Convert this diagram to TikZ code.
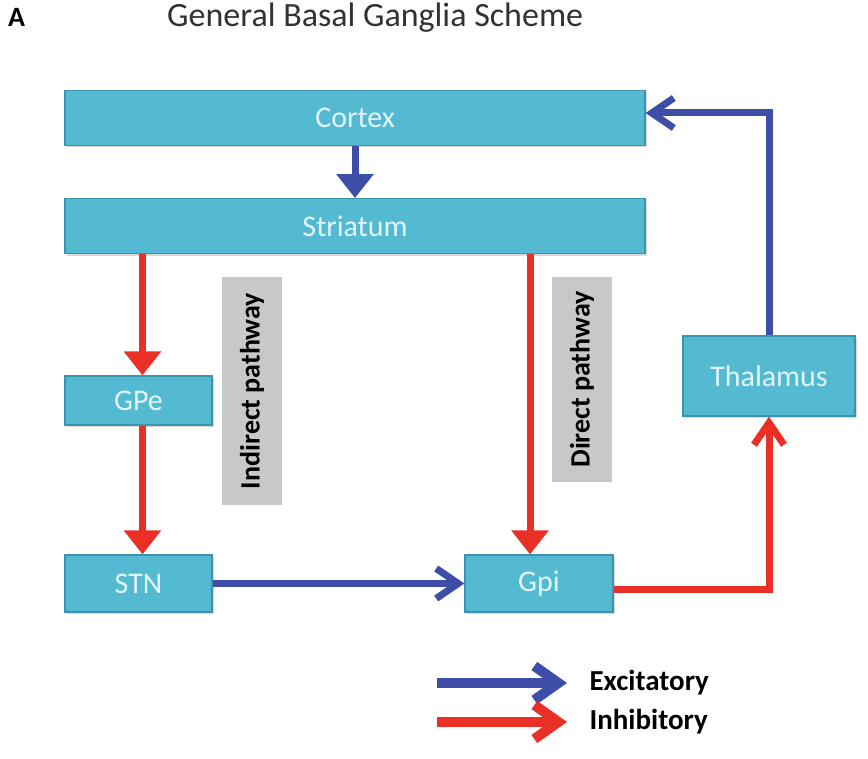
\documentclass[tikz,border=0pt]{standalone}
\usepackage{fontspec}
\setmainfont{Carlito}
\usepackage{tikz}
\usetikzlibrary{arrows.meta,positioning,shadows}

\definecolor{boxcyan}{RGB}{84,186,210}
\definecolor{boxedge}{RGB}{58,148,172}
\definecolor{boxtext}{RGB}{226,245,250}
\definecolor{labelgray}{RGB}{200,200,200}
\definecolor{exblue}{RGB}{62,78,168}
\definecolor{inred}{RGB}{234,48,38}
\definecolor{titlegray}{RGB}{50,50,50}

\begin{document}
\begin{tikzpicture}[
    x=1pt, y=-1pt,
    region/.style={
        rectangle, draw=boxedge, line width=1.2pt, fill=boxcyan,
        text=boxtext, font=\fontsize{30}{35}\selectfont,
        drop shadow={shadow xshift=1.5pt, shadow yshift=-2pt, opacity=0.3}
    },
    pathlabel/.style={
        rectangle, fill=labelgray, rotate=90,
        minimum height=60pt, font=\bfseries\fontsize{28}{33}\selectfont
    },
    excite/.style={draw=exblue, line width=7pt},
    inhib/.style={draw=inred, line width=7pt},
    push/.style={-{Triangle[length=24pt,width=36pt]}},
    barb/.style={-{Straight Barb[length=22pt,width=30pt]}},
    legend/.style={line width=10pt, -{Straight Barb[length=24pt,width=34pt]}},
    legendlabel/.style={anchor=west, font=\bfseries\fontsize{29}{34}\selectfont}
]
\useasboundingbox (0,0) rectangle (868,759);

% Heading
\node[anchor=base west, inner sep=0pt, font=\bfseries\fontsize{28}{32}\selectfont] (panel) at (8,27) {A};
\node[anchor=base west, inner sep=0pt, text=titlegray, font=\fontsize{34}{40}\selectfont] (title) at (167,27) {General Basal Ganglia Scheme};

% Row 1-2: Cortex and Striatum
\node[region, minimum width=580pt, minimum height=55pt] (cortex) at (355,118) {Cortex};
\node[region, minimum width=580pt, minimum height=55pt, below=52pt of cortex] (striatum) {Striatum};

% Indirect branch
\node[region, minimum width=147pt, minimum height=49pt] (gpe) at (138.5,400.5) {GPe};
\node[region, minimum width=147pt, minimum height=57pt] (stn) at (138.5,583.5) {STN};

% Output nuclei
\node[region, minimum width=148pt, minimum height=57pt] (gpi) at (539,583.5) {Gpi};
\node[region, minimum width=172pt, minimum height=80pt] (thalamus) at (769,376) {Thalamus};

% Pathway labels
\node[pathlabel, minimum width=228pt] (indirect) at (252,391) {Indirect pathway};
\node[pathlabel, minimum width=205pt] (direct) at (582,379.5) {Direct pathway};

% Connections
\draw[excite, push] (cortex) -- (striatum);
\draw[inhib, push] ([xshift=4pt]striatum.south -| gpe.north) -- ([xshift=4pt]gpe.north);
\draw[inhib, push] ([xshift=4pt]gpe.south) -- ([xshift=4pt]stn.north);
\draw[inhib, push] ([xshift=-9pt]striatum.south -| gpi.north) -- ([xshift=-9pt]gpi.north);
\draw[excite, barb] (stn) -- (gpi);
\draw[inhib, barb] ([yshift=-6pt]gpi.east) -| (thalamus.south);
\draw[excite, barb] (thalamus.north) |- ([yshift=5pt]cortex.east);

% Legend
\coordinate (excstart) at (437,683);
\coordinate (inhstart) at (437,722);
\node[legendlabel] (exclabel) at (586,683) {Excitatory};
\node[legendlabel] (inhlabel) at (586,722) {Inhibitory};
\draw[legend, exblue] (excstart) -- ([xshift=-19pt]exclabel.west);
\draw[legend, inred] (inhstart) -- ([xshift=-19pt]inhlabel.west);

\end{tikzpicture}
\end{document}
